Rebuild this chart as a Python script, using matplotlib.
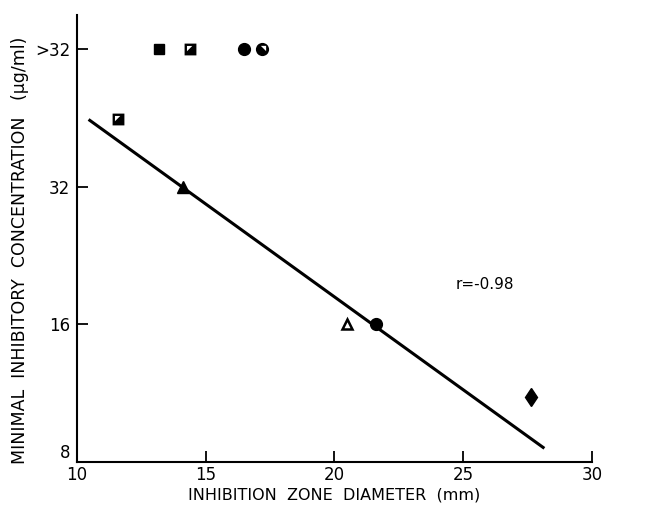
import numpy as np
import matplotlib
matplotlib.use("Agg")
import matplotlib.pyplot as plt
from matplotlib.path import Path

# zone diameter (mm) and MIC (ug/ml); 64 stands for ">32"
filled_sq_x = [13.2]
filled_sq_y = [64]
notched_sq_x = [11.6, 14.4]
notched_sq_y = [45, 64]
filled_circ_x = [16.5, 21.6]
filled_circ_y = [64, 16]
notched_circ_x = [17.2]
notched_circ_y = [64]
filled_tri_x = [14.1]
filled_tri_y = [32]
open_tri_x = [20.5]
open_tri_y = [16]
diamond_x = [27.65]
diamond_y = [11.1]

# regression line ends
fit_x = [10.45, 28.15]
fit_y = [2 ** 5.49, 2 ** 3.1]

y_ticks = [8, 16, 32, 64]
y_labels = ["8", "16", "32", ">32"]
x_ticks = [10, 15, 20, 25, 30]


def signed_area(p):
    x, y = p[:, 0], p[:, 1]
    return 0.5 * np.sum(x[:-1] * y[1:] - x[1:] * y[:-1])


def notched(base, hole):
    # black marker with a small white wedge cut out of it
    hole = np.asarray(hole, float)
    hole = np.vstack([hole, hole[:1]])
    if signed_area(hole) > 0:  # hole must wind clockwise
        hole = hole[::-1]
    verts = np.concatenate([base.vertices, hole])
    codes = list(base.codes) + [Path.MOVETO, Path.LINETO, Path.LINETO, Path.CLOSEPOLY]
    return Path(verts, codes)


square_path = Path([[-1, -1], [1, -1], [1, 1], [-1, 1], [-1, -1]],
                   [Path.MOVETO, Path.LINETO, Path.LINETO, Path.LINETO, Path.CLOSEPOLY])
circle_path = Path.unit_circle()

sq_marker = notched(square_path, [[-0.6, 0.6], [0.3, 0.6], [-0.6, -0.3]])
circ_marker = notched(circle_path, [[0.55, 0.55], [-0.25, 0.55], [0.55, -0.25]])

fig = plt.figure(figsize=(6.47, 5.14), dpi=100)
ax = fig.add_axes([0.119, 0.101, 0.796, 0.87])

ax.plot(fit_x, fit_y, color="black", lw=2.2, solid_capstyle="butt", zorder=2)

kw = dict(color="black", ls="none", zorder=3)
ax.plot(filled_sq_x, filled_sq_y, marker="s", ms=7.5, **kw)
ax.plot(notched_sq_x, notched_sq_y, marker=sq_marker, ms=8.5, mew=0, **kw)
ax.plot(filled_circ_x, filled_circ_y, marker="o", ms=8.5, **kw)
ax.plot(notched_circ_x, notched_circ_y, marker=circ_marker, ms=9.5, mew=0, **kw)
ax.plot(filled_tri_x, filled_tri_y, marker="^", ms=8.5, **kw)
ax.plot(open_tri_x, open_tri_y, marker="^", ms=6.5, mfc="white", mec="black", mew=1.8,
        color="black", ls="none", zorder=3)
ax.plot(diamond_x, diamond_y, marker="d", ms=9.5, **kw)

ax.set_yscale("log", base=2)
ax.set_xlim(10, 30)
ax.set_ylim(8, 2 ** 6.25)
ax.set_yticks(y_ticks)
ax.set_yticklabels(y_labels)
ax.minorticks_off()
ax.set_xticks(x_ticks)

for side in ("top", "right"):
    ax.spines[side].set_visible(False)
for side in ("left", "bottom"):
    ax.spines[side].set_linewidth(1.5)

ax.tick_params(direction="in", length=8, width=1.3, labelsize=12)
ax.tick_params(axis="x", pad=3)
ax.tick_params(axis="y", pad=5)
# lift the "8" so it sits above the x tick labels
ax.get_yticklabels()[0].set_va("bottom")

ax.set_xlabel("INHIBITION  ZONE  DIAMETER  (mm)", fontsize=11.5, labelpad=2)
ax.set_ylabel("MINIMAL  INHIBITORY  CONCENTRATION   (\u00b5g/ml)", fontsize=12.5,
              labelpad=4)
ax.yaxis.label.set_y(0.474)

ax.text(24.7, 2 ** 4.29, "r=-0.98", fontsize=11, va="center")

fig.savefig("out.png", dpi=100)
